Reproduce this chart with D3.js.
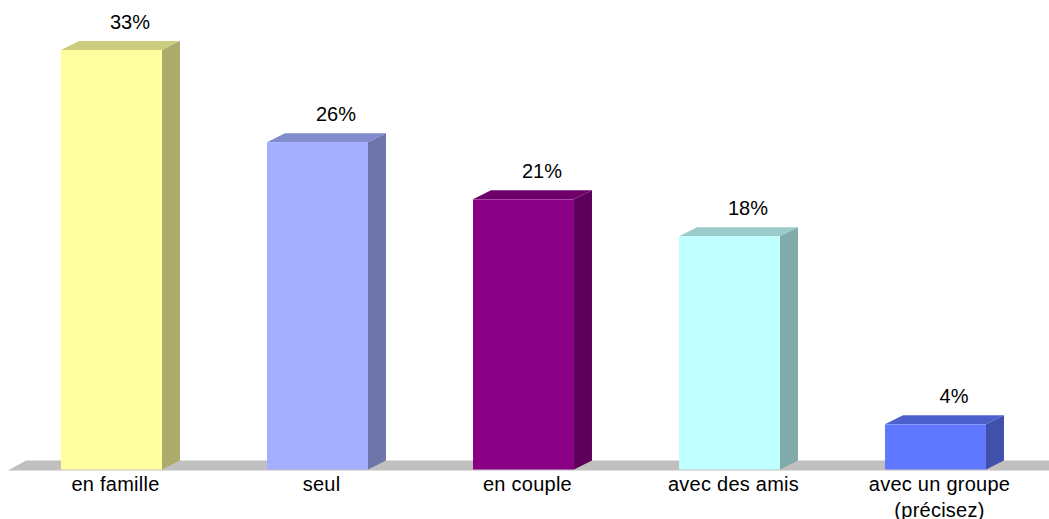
<!DOCTYPE html>
<html>
<head>
<meta charset="utf-8">
<script src="https://cdn.jsdelivr.net/npm/d3@7"></script>
<style>
  html, body { margin: 0; padding: 0; background: #fff; }
  svg { display: block; }
  text { font-family: "Liberation Sans", Arial, sans-serif; font-size: 20px; fill: #000; }
  .x-axis text { letter-spacing: 0.25px; }
</style>
</head>
<body>
<svg id="chart"></svg>
<script>
const categories = ['en famille', 'seul', 'en couple', 'avec des amis', 'avec un groupe (précisez)'];
const values = [33.0, 25.75, 21.25, 18.35, 3.55];
const colors = ['#ffff9f', '#a3aeff', '#890085', '#c0ffff', '#5f78ff'];

const width = 1049, height = 519;
const baseY = 469.5;
const depthX = 18, depthY = 9;

const svg = d3.select('#chart').attr('width', width).attr('height', height);

const xScale = d3.scaleBand().domain(categories).range([8.5, 1038.5])
  .paddingInner(0.51).paddingOuter(0.255);
const yScale = d3.scaleLinear().domain([0, 33]).range([baseY, 50]);

const shade = (c, k) => {
  const r = d3.rgb(c);
  return d3.rgb(r.r * k, r.g * k, r.b * k).formatHex();
};
const poly = pts => d3.line()(pts) + 'Z';

// Floor
svg.append('path')
  .attr('fill', '#c0c0c0')
  .attr('d', poly([[8, baseY + 1], [8 + depthX, baseY - depthY], [width, baseY - depthY], [width, baseY + 1]]));

// Bars: front, top and side faces
const bars = svg.selectAll('.bar')
  .data(categories.map((c, i) => ({ c, v: values[i], color: colors[i] })))
  .join('g')
  .attr('class', 'bar');

bars.append('path')
  .attr('fill', d => shade(d.color, 0.8))
  .attr('d', d => {
    const x0 = xScale(d.c), x1 = x0 + xScale.bandwidth(), y = yScale(d.v);
    return poly([[x0, y], [x0 + depthX, y - depthY], [x1 + depthX, y - depthY], [x1, y]]);
  });

bars.append('path')
  .attr('fill', d => shade(d.color, 0.67))
  .attr('d', d => {
    const x1 = xScale(d.c) + xScale.bandwidth(), y = yScale(d.v);
    return poly([[x1, y], [x1 + depthX, y - depthY], [x1 + depthX, baseY - depthY], [x1, baseY]]);
  });

bars.append('rect')
  .attr('fill', d => d.color)
  .attr('x', d => xScale(d.c))
  .attr('y', d => yScale(d.v))
  .attr('width', xScale.bandwidth())
  .attr('height', d => baseY - yScale(d.v));

// Value labels
bars.append('text')
  .attr('text-anchor', 'middle')
  .attr('x', d => xScale(d.c) + xScale.bandwidth() / 2 + depthX + 0.5)
  .attr('y', d => yScale(d.v) - 21.5)
  .text(d => `${d3.format('.0f')(d.v)}%`);

// Category axis, long label wraps on two lines
const xAxisG = svg.append('g')
  .attr('class', 'x-axis')
  .attr('transform', `translate(4,${baseY})`)
  .call(d3.axisBottom(xScale).tickSize(0).tickPadding(6));
xAxisG.select('.domain').remove();
xAxisG.selectAll('text').each(function(d) {
  const t = d3.select(this).text('');
  const lines = d.includes('(') ? [d.slice(0, d.indexOf('(')).trim(), d.slice(d.indexOf('('))] : [d];
  lines.forEach((l, i) => {
    t.append('tspan').attr('x', 0).attr('dy', i ? 26 : 15).text(l);
  });
}).attr('dy', null).attr('y', 6);
</script>
</body>
</html>
